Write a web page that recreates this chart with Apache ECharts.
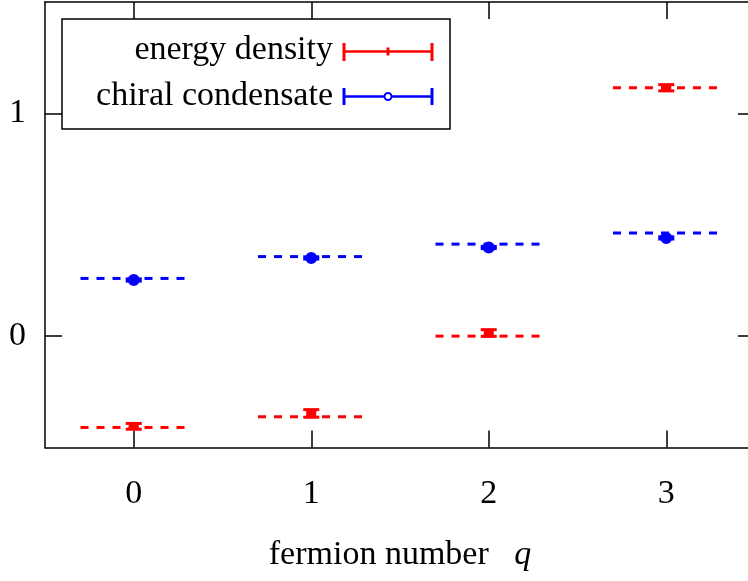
<!DOCTYPE html>
<html>
<head>
<meta charset="utf-8">
<script src="https://cdn.jsdelivr.net/npm/echarts@6/dist/echarts.min.js"></script>
<style>
  html, body { margin: 0; padding: 0; background: #fff; }
  #chart { width: 748px; height: 581px; }
</style>
</head>
<body>
<div id="chart"></div>
<script>
// fermion number q
const qValues = [0, 1, 2, 3];
// energy density: measured values, errors and reference levels (dashed)
const energyValues = [-0.405, -0.347, 0.014, 1.115];
const energyErrors = [0.013, 0.017, 0.015, 0.014];
const energyRef = [-0.41, -0.362, 0.0, 1.115];
// chiral condensate
const chiralValues = [0.252, 0.351, 0.398, 0.441];
const chiralErrors = [0.005, 0.005, 0.005, 0.005];
const chiralRef = [0.259, 0.357, 0.413, 0.463];
// axis ticks
const xTicks = [0, 1, 2, 3];
const yTicks = [0, 1];

const RED = "#ff0000";
const BLUE = "#0000ff";
const FONT = "Liberation Serif";
const refHalfWidth = 0.3;

const chart = echarts.init(document.getElementById("chart"));

function refLine(color) {
  return function (params, api) {
    const q = api.value(0);
    const y = api.value(1);
    const p1 = api.coord([q - refHalfWidth, y]);
    const p2 = api.coord([q + refHalfWidth, y]);
    return {
      type: "line",
      shape: { x1: p1[0], y1: p1[1], x2: p2[0], y2: p2[1] },
      style: { stroke: color, lineWidth: 3, lineDash: [8, 8] },
    };
  };
}

function errorBar(color, kind) {
  return function (params, api) {
    const q = api.value(0);
    const v = api.value(1);
    const e = api.value(2);
    const c = api.coord([q, v]);
    const hi = api.coord([q, v + e]);
    const lo = api.coord([q, v - e]);
    const capW = 8;
    const children = [
      {
        type: "line",
        shape: { x1: c[0], y1: hi[1], x2: c[0], y2: lo[1] },
        style: { stroke: color, lineWidth: 2.5 },
      },
      {
        type: "line",
        shape: { x1: c[0] - capW, y1: hi[1], x2: c[0] + capW, y2: hi[1] },
        style: { stroke: color, lineWidth: 3 },
      },
      {
        type: "line",
        shape: { x1: c[0] - capW, y1: lo[1], x2: c[0] + capW, y2: lo[1] },
        style: { stroke: color, lineWidth: 3 },
      },
    ];
    if (kind === "circle") {
      children.push({
        type: "circle",
        shape: { cx: c[0], cy: c[1], r: 5 },
        style: { fill: color, stroke: color, lineWidth: 2 },
      });
    } else {
      children.push({
        type: "rect",
        shape: { x: c[0] - 5, y: hi[1], width: 10, height: lo[1] - hi[1] },
        style: { fill: color },
      });
    }
    return { type: "group", children: children };
  };
}

const axisCommon = {
  type: "value",
  axisLine: { show: true, onZero: false, lineStyle: { color: "#000", width: 1.5 } },
  splitLine: { show: false },
  axisTick: { show: true, inside: true, length: 17, lineStyle: { color: "#000", width: 1.5 } },
};

const option = {
  animation: false,
  backgroundColor: "#fff",
  grid: {
    left: 45,
    width: 710,
    top: 2,
    height: 445.5,
    containLabel: false,
    outerBoundsMode: "none",
  },
  xAxis: [
    Object.assign({}, axisCommon, {
      position: "bottom",
      min: -0.5,
      max: 3.5,
      axisTick: Object.assign({}, axisCommon.axisTick, { customValues: xTicks }),
      axisLabel: {
        customValues: xTicks,
        color: "#000",
        fontFamily: FONT,
        fontSize: 34,
        margin: 30,
      },
      name: "fermion number   {q|q}",
      nameLocation: "middle",
      nameGap: 91,
      nameTextStyle: {
        color: "#000",
        fontFamily: FONT,
        fontSize: 34,
        rich: { q: { fontFamily: FONT, fontSize: 34, fontStyle: "italic", color: "#000" } },
      },
    }),
    Object.assign({}, axisCommon, {
      position: "top",
      min: -0.5,
      max: 3.5,
      axisTick: Object.assign({}, axisCommon.axisTick, { customValues: xTicks }),
      axisLabel: { show: false },
    }),
  ],
  yAxis: [
    Object.assign({}, axisCommon, {
      position: "left",
      min: -0.5,
      max: 1.5,
      axisTick: Object.assign({}, axisCommon.axisTick, { customValues: yTicks }),
      axisLabel: {
        customValues: yTicks,
        color: "#000",
        fontFamily: FONT,
        fontSize: 34,
        margin: 19,
      },
    }),
    Object.assign({}, axisCommon, {
      position: "right",
      min: -0.5,
      max: 1.5,
      axisTick: Object.assign({}, axisCommon.axisTick, { customValues: yTicks }),
      axisLabel: { show: false },
    }),
  ],
  graphic: [
    {
      type: "rect",
      shape: { x: 62, y: 19, width: 388, height: 110 },
      style: { fill: "#fff", stroke: "#000", lineWidth: 1.5 },
      z: 100,
    },
    {
      type: "text",
      x: 333,
      y: 50,
      z: 101,
      style: { text: "energy density", fill: "#000", font: "34px " + FONT, align: "right", verticalAlign: "middle" },
    },
    {
      type: "text",
      x: 333,
      y: 96,
      z: 101,
      style: { text: "chiral condensate", fill: "#000", font: "34px " + FONT, align: "right", verticalAlign: "middle" },
    },
    // legend samples
    { type: "line", z: 101, shape: { x1: 344, y1: 51.5, x2: 432, y2: 51.5 }, style: { stroke: RED, lineWidth: 2.5 } },
    { type: "line", z: 101, shape: { x1: 344, y1: 43, x2: 344, y2: 61 }, style: { stroke: RED, lineWidth: 3 } },
    { type: "line", z: 101, shape: { x1: 432, y1: 43, x2: 432, y2: 61 }, style: { stroke: RED, lineWidth: 3 } },
    { type: "line", z: 101, shape: { x1: 388, y1: 47.5, x2: 388, y2: 55.5 }, style: { stroke: RED, lineWidth: 3 } },
    { type: "line", z: 101, shape: { x1: 344, y1: 96.5, x2: 432, y2: 96.5 }, style: { stroke: BLUE, lineWidth: 2.5 } },
    { type: "line", z: 101, shape: { x1: 344, y1: 88, x2: 344, y2: 105 }, style: { stroke: BLUE, lineWidth: 3 } },
    { type: "line", z: 101, shape: { x1: 432, y1: 88, x2: 432, y2: 105 }, style: { stroke: BLUE, lineWidth: 3 } },
    { type: "circle", z: 102, shape: { cx: 388, cy: 96.5, r: 3.5 }, style: { fill: "#fff", stroke: BLUE, lineWidth: 2 } },
  ],
  series: [
    {
      name: "energy density reference",
      type: "custom",
      renderItem: refLine(RED),
      data: qValues.map((q, i) => [q, energyRef[i]]),
      z: 2,
    },
    {
      name: "chiral condensate reference",
      type: "custom",
      renderItem: refLine(BLUE),
      data: qValues.map((q, i) => [q, chiralRef[i]]),
      z: 2,
    },
    {
      name: "energy density",
      type: "custom",
      renderItem: errorBar(RED, "bar"),
      data: qValues.map((q, i) => [q, energyValues[i], energyErrors[i]]),
      z: 3,
    },
    {
      name: "chiral condensate",
      type: "custom",
      renderItem: errorBar(BLUE, "circle"),
      data: qValues.map((q, i) => [q, chiralValues[i], chiralErrors[i]]),
      z: 3,
    },
  ],
};

chart.setOption(option);
</script>
</body>
</html>
